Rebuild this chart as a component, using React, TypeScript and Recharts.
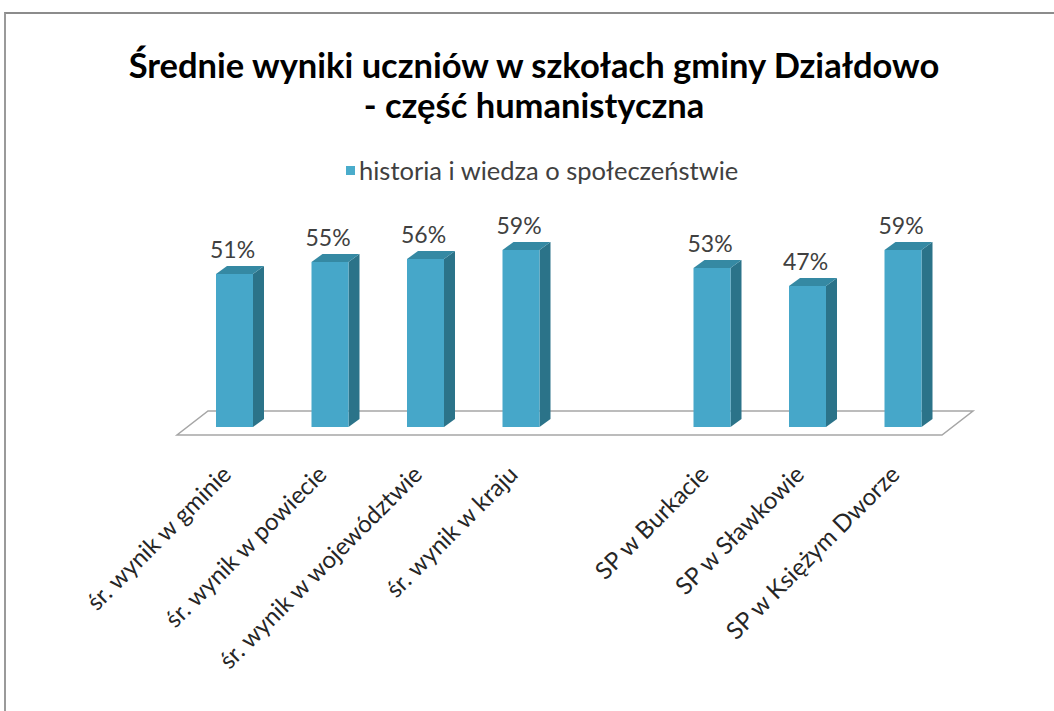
import React from "react";
import { BarChart, Bar, XAxis, YAxis, LabelList, ReferenceLine } from "recharts";

// categories (empty slot separates the averages from the schools)
const categories = [
  "śr. wynik w gminie",
  "śr. wynik w powiecie",
  "śr. wynik w województwie",
  "śr. wynik w kraju",
  "",
  "SP w Burkacie",
  "SP w Sławkowie",
  "SP w Księżym Dworze",
];
const historyScores = [51, 55, 56, 59, null, 53, 47, 59];
const seriesName = "historia i wiedza o społeczeństwie";

const data = categories.map((name, i) => ({ name, value: historyScores[i] }));

const FRONT = "#46a7c9";
const TOP = "#3589a3";
const SIDE = "#2b7389";
const DX = 11;
const DY = 8;

const Bar3D = (props: any) => {
  const { x, y, width, height, value } = props;
  if (value == null || !height || height <= 0) return null;
  const r = x + width;
  const b = y + height;
  return (
    <g>
      <polygon
        points={`${r},${y} ${r + DX},${y - DY} ${r + DX},${b - DY} ${r},${b}`}
        fill={SIDE}
      />
      <polygon
        points={`${x},${y} ${x + DX},${y - DY} ${r + DX},${y - DY} ${r},${y}`}
        fill={TOP}
      />
      <rect x={x} y={y} width={width} height={height} fill={FRONT} />
    </g>
  );
};

const Floor = (p: any) => {
  const { x1, x2, y1 } = p;
  const pts = [
    [x1 + 21, y1 - 16],
    [x2 + 22, y1 - 16],
    [x2 - 9, y1 + 8],
    [x1 - 10, y1 + 8],
  ]
    .map((q) => q.join(","))
    .join(" ");
  return <polygon points={pts} fill="#fff" stroke="#a6a6a6" strokeWidth={1.5} />;
};

const ValueLabel = (props: any) => {
  const { x, y, width, value } = props;
  if (value == null) return null;
  return (
    <text
      x={x + width / 2 - 2}
      y={y - 16}
      textAnchor="middle"
      fill="#404040"
      fontSize={23}
      fontFamily="Lato"
    >
      {value}%
    </text>
  );
};

const SlantTick = (props: any) => {
  const { x, y, payload } = props;
  if (!payload.value) return null;
  return (
    <g transform={`translate(${x - 2},${y + 49})`}>
      <text
        textAnchor="end"
        transform="rotate(-45)"
        fill="#262626"
        fontSize={24}
        fontFamily="Lato"
      >
        {payload.value}
      </text>
    </g>
  );
};

export default function App() {
  return (
    <div
      style={{
        position: "fixed",
        left: 0,
        top: 0,
        width: 1054,
        height: 711,
        background: "#fff",
        fontFamily: "Lato",
        overflow: "hidden",
      }}
    >
      <div
        style={{
          position: "absolute",
          left: 4,
          top: 12,
          width: 1070,
          height: 720,
          borderTop: "2px solid #8c8c8c",
          borderLeft: "2px solid #9a9a9a",
        }}
      />
      <div
        style={{
          position: "absolute",
          left: 0,
          width: 1068,
          top: 45,
          textAlign: "center",
          fontWeight: 700,
          fontSize: 34.5,
          lineHeight: "40px",
          color: "#000",
        }}
      >
        Średnie wyniki uczniów w szkołach gminy Działdowo
        <br />- część humanistyczna
      </div>
      <div
        style={{
          position: "absolute",
          left: 346,
          top: 155,
          display: "flex",
          alignItems: "center",
          fontSize: 25.5,
          color: "#404040",
          height: 30,
        }}
      >
        <span
          style={{
            width: 9,
            height: 9,
            background: "#4aaccb",
            marginRight: 4,
            display: "inline-block",
          }}
        />
        {seriesName}
      </div>
      <div style={{ position: "absolute", left: 0, top: 0 }}>
        <BarChart
          width={1054}
          height={711}
          data={data}
          margin={{ top: 217, right: 103, left: 187, bottom: 0 }}
          barSize={37}
        >
          <XAxis
            dataKey="name"
            axisLine={false}
            tickLine={false}
            tickSize={0}
            tickMargin={0}
            height={284}
            interval={0}
            tick={<SlantTick />}
          />
          <YAxis hide domain={[0, 70]} />
          <ReferenceLine y={0} shape={<Floor />} zIndex={-10} ifOverflow="visible" />
          <Bar
            dataKey="value"
            shape={<Bar3D />}
            isAnimationActive={false}
          >
            <LabelList dataKey="value" content={<ValueLabel />} />
          </Bar>
        </BarChart>
      </div>
    </div>
  );
}
